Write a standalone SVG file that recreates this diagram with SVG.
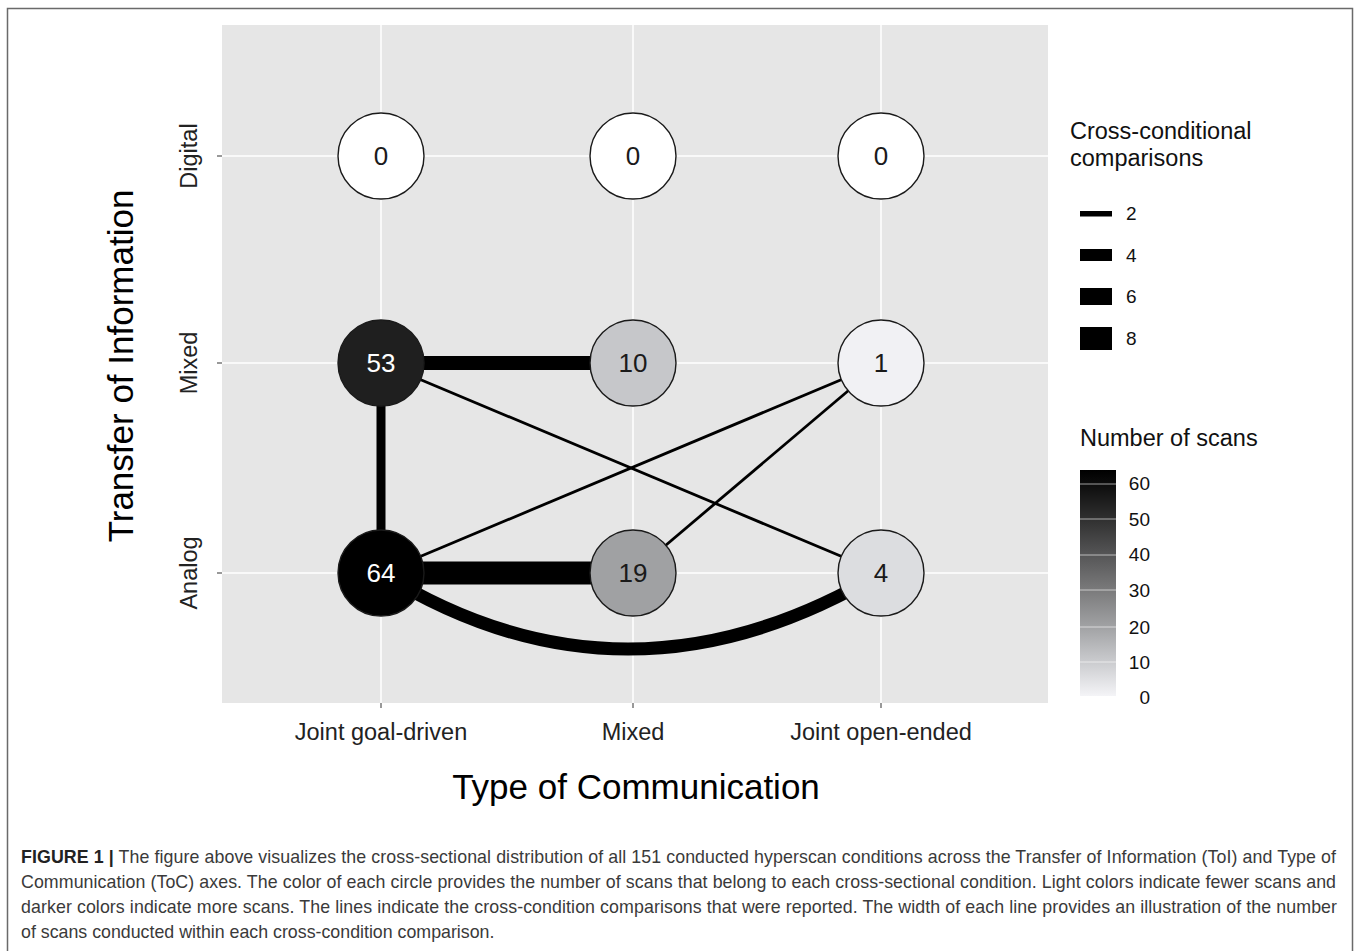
<svg xmlns="http://www.w3.org/2000/svg" width="1358" height="951" viewBox="0 0 1358 951">
<defs>
<style>
text{font-family:"Liberation Sans",Arial,Helvetica,sans-serif}
.grid{stroke:#ffffff;stroke-width:1.5;fill:none}
.tick{stroke:#555;stroke-width:1.2}
.axlab{font-size:23.5px;fill:#222}
.axtitle{font-size:35px;fill:#000}
.node{stroke:#1a1a1a;stroke-width:1.4}
.nlab{font-size:26px;text-anchor:middle;fill:#1a1a1a}
.nlabw{fill:#ffffff}
.edge{stroke:#000;fill:none;stroke-linecap:butt}
.legtitle{font-size:23.5px;fill:#111}
.leglab{font-size:19px;fill:#111}
.key{fill:#000}
.cbtick{stroke:#ffffff;stroke-opacity:0.6;stroke-width:1}
.cap{font-size:17.8px;fill:#3a3a3a}
</style>
<linearGradient id="cb" x1="0" y1="1" x2="0" y2="0">
<stop offset="0" stop-color="#f4f4f7"/>
<stop offset="0.16" stop-color="#c8c9cc"/>
<stop offset="0.31" stop-color="#a0a1a3"/>
<stop offset="0.47" stop-color="#7a7a7b"/>
<stop offset="0.63" stop-color="#545455"/>
<stop offset="0.79" stop-color="#2e2e2e"/>
<stop offset="0.94" stop-color="#0c0c0c"/>
<stop offset="1" stop-color="#000000"/>
</linearGradient>
</defs>
<rect width="1358" height="951" fill="#ffffff"/>
<path d="M7.5,951 V8.5 H1352.5 V951" fill="none" stroke="#6a6a6a" stroke-width="1.5"/>

<g id="panel">
<rect x="222" y="25" width="826" height="678" fill="#e6e6e6"/>
<line class="grid" x1="381" y1="25" x2="381" y2="703"/>
<line class="grid" x1="633" y1="25" x2="633" y2="703"/>
<line class="grid" x1="881" y1="25" x2="881" y2="703"/>
<line class="grid" x1="222" y1="156" x2="1048" y2="156"/>
<line class="grid" x1="222" y1="363" x2="1048" y2="363"/>
<line class="grid" x1="222" y1="573" x2="1048" y2="573"/>
</g>

<g id="axes">
<line class="tick" x1="217" y1="156" x2="222" y2="156"/>
<line class="tick" x1="217" y1="363" x2="222" y2="363"/>
<line class="tick" x1="217" y1="573" x2="222" y2="573"/>
<line class="tick" x1="381" y1="703" x2="381" y2="708"/>
<line class="tick" x1="633" y1="703" x2="633" y2="708"/>
<line class="tick" x1="881" y1="703" x2="881" y2="708"/>
<text class="axlab" text-anchor="middle" transform="translate(197,156) rotate(-90)">Digital</text>
<text class="axlab" text-anchor="middle" transform="translate(197,363) rotate(-90)">Mixed</text>
<text class="axlab" text-anchor="middle" transform="translate(197,573) rotate(-90)">Analog</text>
<text class="axlab" text-anchor="middle" x="381" y="740">Joint goal-driven</text>
<text class="axlab" text-anchor="middle" x="633" y="740">Mixed</text>
<text class="axlab" text-anchor="middle" x="881" y="740">Joint open-ended</text>
<text class="axtitle" text-anchor="middle" x="636" y="799">Type of Communication</text>
<text class="axtitle" text-anchor="middle" transform="translate(133,366) rotate(-90)">Transfer of Information</text>
</g>

<g id="connectors">
<line class="edge" x1="381" y1="363" x2="633" y2="363" stroke-width="14"/>
<line class="edge" x1="381" y1="363" x2="381" y2="573" stroke-width="9"/>
<line class="edge" x1="381" y1="573" x2="633" y2="573" stroke-width="23"/>
<line class="edge" x1="381" y1="363" x2="881" y2="573" stroke-width="2.8"/>
<line class="edge" x1="381" y1="573" x2="881" y2="363" stroke-width="2.8"/>
<line class="edge" x1="633" y1="573" x2="881" y2="363" stroke-width="2.8"/>
<path class="edge" d="M381,573 Q625,725 881,573" stroke-width="13"/>
</g>

<g id="node-digital-goal"><circle class="node" cx="381" cy="156" r="43" fill="#ffffff"/><text class="nlab" x="381" y="165">0</text></g>
<g id="node-digital-mixed"><circle class="node" cx="633" cy="156" r="43" fill="#ffffff"/><text class="nlab" x="633" y="165">0</text></g>
<g id="node-digital-open"><circle class="node" cx="881" cy="156" r="43" fill="#ffffff"/><text class="nlab" x="881" y="165">0</text></g>
<g id="node-mixed-goal"><circle class="node" cx="381" cy="363" r="43" fill="#1f1f1f"/><text class="nlab nlabw" x="381" y="372">53</text></g>
<g id="node-mixed-mixed"><circle class="node" cx="633" cy="363" r="43" fill="#c6c7ca"/><text class="nlab" x="633" y="372">10</text></g>
<g id="node-mixed-open"><circle class="node" cx="881" cy="363" r="43" fill="#f1f1f4"/><text class="nlab" x="881" y="372">1</text></g>
<g id="node-analog-goal"><circle class="node" cx="381" cy="573" r="43" fill="#000000"/><text class="nlab nlabw" x="381" y="582">64</text></g>
<g id="node-analog-mixed"><circle class="node" cx="633" cy="573" r="43" fill="#a0a1a3"/><text class="nlab" x="633" y="582">19</text></g>
<g id="node-analog-open"><circle class="node" cx="881" cy="573" r="43" fill="#dcdde0"/><text class="nlab" x="881" y="582">4</text></g>

<g id="legend-comparisons">
<text class="legtitle" x="1070" y="139">Cross-conditional</text>
<text class="legtitle" x="1070" y="166">comparisons</text>
<rect class="key" x="1080" y="211" width="32" height="5.5"/>
<rect class="key" x="1080" y="249" width="32" height="12"/>
<rect class="key" x="1080" y="288" width="32" height="17"/>
<rect class="key" x="1080" y="327" width="32" height="23"/>
<text class="leglab" x="1126" y="220">2</text>
<text class="leglab" x="1126" y="262">4</text>
<text class="leglab" x="1126" y="303">6</text>
<text class="leglab" x="1126" y="345">8</text>
</g>

<g id="legend-scans">
<text class="legtitle" x="1080" y="446">Number of scans</text>
<rect x="1080" y="470" width="36" height="226" fill="url(#cb)"/>
<line class="cbtick" x1="1080" y1="484" x2="1116" y2="484"/>
<line class="cbtick" x1="1080" y1="519" x2="1116" y2="519"/>
<line class="cbtick" x1="1080" y1="555" x2="1116" y2="555"/>
<line class="cbtick" x1="1080" y1="590" x2="1116" y2="590"/>
<line class="cbtick" x1="1080" y1="627" x2="1116" y2="627"/>
<line class="cbtick" x1="1080" y1="662" x2="1116" y2="662"/>
<text class="leglab" text-anchor="end" x="1150" y="490">60</text>
<text class="leglab" text-anchor="end" x="1150" y="526">50</text>
<text class="leglab" text-anchor="end" x="1150" y="561">40</text>
<text class="leglab" text-anchor="end" x="1150" y="597">30</text>
<text class="leglab" text-anchor="end" x="1150" y="634">20</text>
<text class="leglab" text-anchor="end" x="1150" y="669">10</text>
<text class="leglab" text-anchor="end" x="1150" y="704">0</text>
</g>

<g id="caption">
<text class="cap" x="21" y="863" textLength="1315" lengthAdjust="spacing"><tspan font-weight="bold" fill="#222">FIGURE 1 |</tspan> The figure above visualizes the cross-sectional distribution of all 151 conducted hyperscan conditions across the Transfer of Information (ToI) and Type of</text>
<text class="cap" x="21" y="888" textLength="1315" lengthAdjust="spacing">Communication (ToC) axes. The color of each circle provides the number of scans that belong to each cross-sectional condition. Light colors indicate fewer scans and</text>
<text class="cap" x="21" y="913" textLength="1316" lengthAdjust="spacing">darker colors indicate more scans. The lines indicate the cross-condition comparisons that were reported. The width of each line provides an illustration of the number</text>
<text class="cap" x="21" y="938">of scans conducted within each cross-condition comparison.</text>
</g>
</svg>
